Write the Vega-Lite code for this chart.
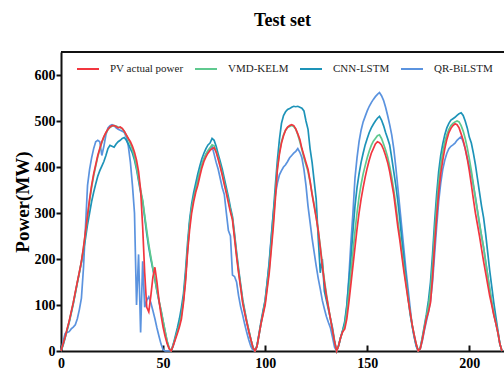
{
  "$schema": "https://vega.github.io/schema/vega-lite/v6.json",
  "width": 443,
  "height": 299,
  "autosize": {"type": "none"},
  "padding": {"left": 61, "top": 52, "right": 0, "bottom": 18},
  "background": "white",
  "title": {"text": "Test set", "font": "Liberation Serif", "fontSize": 18, "fontWeight": "bold", "color": "#000", "anchor": "middle", "offset": 21},
  "config": {"view": {"stroke": null}},
  "layer": [
    {
      "data": {"values": [
        {"x":0,"pv":0,"vmd":0,"cnn":0,"qr":0},
        {"x":1,"pv":15,"vmd":14,"cnn":12,"qr":20},
        {"x":2,"pv":30,"vmd":30,"cnn":28,"qr":38},
        {"x":3,"pv":48,"vmd":47,"cnn":45,"qr":40},
        {"x":4,"pv":65,"vmd":64,"cnn":62,"qr":42},
        {"x":5,"pv":85,"vmd":84,"cnn":82,"qr":48},
        {"x":6,"pv":105,"vmd":104,"cnn":102,"qr":52},
        {"x":7,"pv":128,"vmd":126,"cnn":125,"qr":57},
        {"x":8,"pv":150,"vmd":149,"cnn":148,"qr":70},
        {"x":9,"pv":172,"vmd":171,"cnn":170,"qr":90},
        {"x":10,"pv":195,"vmd":194,"cnn":193,"qr":115},
        {"x":11,"pv":225,"vmd":223,"cnn":218,"qr":180},
        {"x":12,"pv":260,"vmd":257,"cnn":245,"qr":270},
        {"x":13,"pv":295,"vmd":292,"cnn":275,"qr":360},
        {"x":14,"pv":330,"vmd":326,"cnn":300,"qr":395},
        {"x":15,"pv":360,"vmd":356,"cnn":325,"qr":420},
        {"x":16,"pv":385,"vmd":381,"cnn":345,"qr":440},
        {"x":17,"pv":405,"vmd":402,"cnn":363,"qr":455},
        {"x":18,"pv":425,"vmd":422,"cnn":380,"qr":458},
        {"x":19,"pv":440,"vmd":438,"cnn":392,"qr":455},
        {"x":20,"pv":455,"vmd":453,"cnn":402,"qr":425},
        {"x":21,"pv":466,"vmd":465,"cnn":412,"qr":445},
        {"x":22,"pv":475,"vmd":474,"cnn":425,"qr":470},
        {"x":23,"pv":482,"vmd":481,"cnn":440,"qr":485},
        {"x":24,"pv":487,"vmd":486,"cnn":447,"qr":490},
        {"x":25,"pv":490,"vmd":489,"cnn":445,"qr":492},
        {"x":26,"pv":490,"vmd":490,"cnn":443,"qr":490},
        {"x":27,"pv":488,"vmd":489,"cnn":450,"qr":485},
        {"x":28,"pv":485,"vmd":487,"cnn":455,"qr":482},
        {"x":29,"pv":487,"vmd":486,"cnn":458,"qr":480},
        {"x":30,"pv":484,"vmd":483,"cnn":462,"qr":478},
        {"x":31,"pv":478,"vmd":477,"cnn":464,"qr":475},
        {"x":32,"pv":470,"vmd":469,"cnn":458,"qr":465},
        {"x":33,"pv":462,"vmd":460,"cnn":450,"qr":445},
        {"x":34,"pv":455,"vmd":450,"cnn":440,"qr":410},
        {"x":35,"pv":445,"vmd":438,"cnn":430,"qr":360},
        {"x":36,"pv":432,"vmd":422,"cnn":415,"qr":300},
        {"x":37,"pv":415,"vmd":400,"cnn":395,"qr":100},
        {"x":38,"pv":390,"vmd":375,"cnn":370,"qr":210},
        {"x":39,"pv":350,"vmd":350,"cnn":345,"qr":40},
        {"x":40,"pv":270,"vmd":328,"cnn":325,"qr":195},
        {"x":41,"pv":170,"vmd":295,"cnn":290,"qr":95},
        {"x":42,"pv":95,"vmd":262,"cnn":255,"qr":110},
        {"x":43,"pv":85,"vmd":232,"cnn":225,"qr":118},
        {"x":44,"pv":120,"vmd":205,"cnn":200,"qr":105},
        {"x":45,"pv":160,"vmd":180,"cnn":178,"qr":88},
        {"x":46,"pv":182,"vmd":157,"cnn":155,"qr":70},
        {"x":47,"pv":150,"vmd":132,"cnn":130,"qr":50},
        {"x":48,"pv":110,"vmd":110,"cnn":108,"qr":32},
        {"x":49,"pv":78,"vmd":88,"cnn":88,"qr":15},
        {"x":50,"pv":52,"vmd":66,"cnn":65,"qr":3},
        {"x":51,"pv":32,"vmd":43,"cnn":42,"qr":0},
        {"x":52,"pv":16,"vmd":22,"cnn":20,"qr":0},
        {"x":53,"pv":5,"vmd":6,"cnn":5,"qr":0},
        {"x":54,"pv":0,"vmd":0,"cnn":0,"qr":0},
        {"x":55,"pv":12,"vmd":13,"cnn":15,"qr":12},
        {"x":56,"pv":25,"vmd":28,"cnn":32,"qr":28},
        {"x":57,"pv":38,"vmd":42,"cnn":50,"qr":45},
        {"x":58,"pv":52,"vmd":57,"cnn":70,"qr":63},
        {"x":59,"pv":70,"vmd":78,"cnn":95,"qr":82},
        {"x":60,"pv":105,"vmd":112,"cnn":125,"qr":112},
        {"x":61,"pv":150,"vmd":160,"cnn":175,"qr":160},
        {"x":62,"pv":215,"vmd":222,"cnn":235,"qr":220},
        {"x":63,"pv":263,"vmd":275,"cnn":285,"qr":278},
        {"x":64,"pv":300,"vmd":310,"cnn":320,"qr":312},
        {"x":65,"pv":325,"vmd":333,"cnn":345,"qr":335},
        {"x":66,"pv":345,"vmd":352,"cnn":365,"qr":355},
        {"x":67,"pv":360,"vmd":370,"cnn":385,"qr":372},
        {"x":68,"pv":380,"vmd":390,"cnn":402,"qr":390},
        {"x":69,"pv":398,"vmd":405,"cnn":418,"qr":405},
        {"x":70,"pv":412,"vmd":418,"cnn":430,"qr":418},
        {"x":71,"pv":422,"vmd":428,"cnn":440,"qr":428},
        {"x":72,"pv":430,"vmd":436,"cnn":448,"qr":435},
        {"x":73,"pv":436,"vmd":442,"cnn":452,"qr":440},
        {"x":74,"pv":440,"vmd":448,"cnn":462,"qr":445},
        {"x":75,"pv":442,"vmd":446,"cnn":458,"qr":428},
        {"x":76,"pv":432,"vmd":434,"cnn":445,"qr":410},
        {"x":77,"pv":417,"vmd":420,"cnn":428,"qr":395},
        {"x":78,"pv":400,"vmd":404,"cnn":412,"qr":375},
        {"x":79,"pv":382,"vmd":386,"cnn":395,"qr":355},
        {"x":80,"pv":362,"vmd":366,"cnn":375,"qr":340},
        {"x":81,"pv":343,"vmd":347,"cnn":355,"qr":300},
        {"x":82,"pv":322,"vmd":327,"cnn":335,"qr":262},
        {"x":83,"pv":302,"vmd":306,"cnn":312,"qr":250},
        {"x":84,"pv":285,"vmd":288,"cnn":292,"qr":165},
        {"x":85,"pv":245,"vmd":250,"cnn":255,"qr":162},
        {"x":86,"pv":205,"vmd":210,"cnn":215,"qr":150},
        {"x":87,"pv":170,"vmd":173,"cnn":178,"qr":120},
        {"x":88,"pv":138,"vmd":140,"cnn":145,"qr":96},
        {"x":89,"pv":104,"vmd":108,"cnn":112,"qr":78},
        {"x":90,"pv":82,"vmd":85,"cnn":88,"qr":58},
        {"x":91,"pv":62,"vmd":63,"cnn":65,"qr":40},
        {"x":92,"pv":42,"vmd":44,"cnn":45,"qr":24},
        {"x":93,"pv":25,"vmd":25,"cnn":25,"qr":10},
        {"x":94,"pv":8,"vmd":8,"cnn":8,"qr":2},
        {"x":95,"pv":0,"vmd":0,"cnn":0,"qr":0},
        {"x":96,"pv":10,"vmd":10,"cnn":12,"qr":10},
        {"x":97,"pv":35,"vmd":35,"cnn":38,"qr":35},
        {"x":98,"pv":60,"vmd":60,"cnn":65,"qr":60},
        {"x":99,"pv":80,"vmd":82,"cnn":88,"qr":85},
        {"x":100,"pv":100,"vmd":105,"cnn":110,"qr":110},
        {"x":101,"pv":135,"vmd":140,"cnn":150,"qr":150},
        {"x":102,"pv":170,"vmd":178,"cnn":190,"qr":195},
        {"x":103,"pv":220,"vmd":230,"cnn":245,"qr":250},
        {"x":104,"pv":270,"vmd":282,"cnn":300,"qr":300},
        {"x":105,"pv":330,"vmd":340,"cnn":360,"qr":340},
        {"x":106,"pv":395,"vmd":398,"cnn":415,"qr":365},
        {"x":107,"pv":428,"vmd":432,"cnn":460,"qr":383},
        {"x":108,"pv":452,"vmd":455,"cnn":495,"qr":392},
        {"x":109,"pv":468,"vmd":470,"cnn":512,"qr":400},
        {"x":110,"pv":480,"vmd":480,"cnn":520,"qr":405},
        {"x":111,"pv":487,"vmd":486,"cnn":525,"qr":412},
        {"x":112,"pv":490,"vmd":488,"cnn":527,"qr":420},
        {"x":113,"pv":492,"vmd":490,"cnn":530,"qr":425},
        {"x":114,"pv":490,"vmd":488,"cnn":532,"qr":430},
        {"x":115,"pv":483,"vmd":482,"cnn":531,"qr":434},
        {"x":116,"pv":472,"vmd":470,"cnn":532,"qr":440},
        {"x":117,"pv":460,"vmd":455,"cnn":530,"qr":432},
        {"x":118,"pv":440,"vmd":438,"cnn":528,"qr":420},
        {"x":119,"pv":425,"vmd":420,"cnn":522,"qr":395},
        {"x":120,"pv":410,"vmd":405,"cnn":500,"qr":360},
        {"x":121,"pv":395,"vmd":390,"cnn":482,"qr":315},
        {"x":122,"pv":370,"vmd":368,"cnn":440,"qr":280},
        {"x":123,"pv":340,"vmd":342,"cnn":410,"qr":245},
        {"x":124,"pv":315,"vmd":318,"cnn":370,"qr":215},
        {"x":125,"pv":290,"vmd":292,"cnn":330,"qr":185},
        {"x":126,"pv":262,"vmd":262,"cnn":245,"qr":158},
        {"x":127,"pv":225,"vmd":228,"cnn":170,"qr":135},
        {"x":128,"pv":185,"vmd":190,"cnn":200,"qr":110},
        {"x":129,"pv":150,"vmd":155,"cnn":130,"qr":92},
        {"x":130,"pv":120,"vmd":124,"cnn":110,"qr":75},
        {"x":131,"pv":95,"vmd":96,"cnn":90,"qr":62},
        {"x":132,"pv":70,"vmd":70,"cnn":70,"qr":50},
        {"x":133,"pv":45,"vmd":45,"cnn":50,"qr":30},
        {"x":134,"pv":20,"vmd":20,"cnn":22,"qr":8},
        {"x":135,"pv":0,"vmd":0,"cnn":0,"qr":0},
        {"x":136,"pv":12,"vmd":12,"cnn":12,"qr":12},
        {"x":137,"pv":30,"vmd":30,"cnn":30,"qr":30},
        {"x":138,"pv":42,"vmd":43,"cnn":45,"qr":45},
        {"x":139,"pv":48,"vmd":55,"cnn":65,"qr":60},
        {"x":140,"pv":70,"vmd":85,"cnn":100,"qr":95},
        {"x":141,"pv":105,"vmd":125,"cnn":150,"qr":160},
        {"x":142,"pv":145,"vmd":170,"cnn":200,"qr":235},
        {"x":143,"pv":185,"vmd":215,"cnn":260,"qr":300},
        {"x":144,"pv":225,"vmd":260,"cnn":315,"qr":376},
        {"x":145,"pv":265,"vmd":300,"cnn":355,"qr":420},
        {"x":146,"pv":300,"vmd":335,"cnn":385,"qr":455},
        {"x":147,"pv":330,"vmd":362,"cnn":410,"qr":480},
        {"x":148,"pv":355,"vmd":385,"cnn":430,"qr":498},
        {"x":149,"pv":378,"vmd":403,"cnn":448,"qr":510},
        {"x":150,"pv":398,"vmd":420,"cnn":462,"qr":522},
        {"x":151,"pv":415,"vmd":435,"cnn":475,"qr":532},
        {"x":152,"pv":430,"vmd":447,"cnn":485,"qr":540},
        {"x":153,"pv":440,"vmd":456,"cnn":493,"qr":547},
        {"x":154,"pv":450,"vmd":462,"cnn":500,"qr":553},
        {"x":155,"pv":455,"vmd":468,"cnn":506,"qr":558},
        {"x":156,"pv":453,"vmd":470,"cnn":510,"qr":562},
        {"x":157,"pv":448,"vmd":462,"cnn":502,"qr":555},
        {"x":158,"pv":438,"vmd":450,"cnn":490,"qr":545},
        {"x":159,"pv":425,"vmd":437,"cnn":475,"qr":530},
        {"x":160,"pv":410,"vmd":422,"cnn":462,"qr":512},
        {"x":161,"pv":390,"vmd":402,"cnn":448,"qr":492},
        {"x":162,"pv":365,"vmd":378,"cnn":420,"qr":470},
        {"x":163,"pv":340,"vmd":350,"cnn":390,"qr":440},
        {"x":164,"pv":305,"vmd":318,"cnn":360,"qr":400},
        {"x":165,"pv":270,"vmd":283,"cnn":325,"qr":355},
        {"x":166,"pv":240,"vmd":250,"cnn":285,"qr":310},
        {"x":167,"pv":205,"vmd":215,"cnn":240,"qr":265},
        {"x":168,"pv":172,"vmd":180,"cnn":200,"qr":220},
        {"x":169,"pv":142,"vmd":148,"cnn":160,"qr":175},
        {"x":170,"pv":112,"vmd":115,"cnn":120,"qr":135},
        {"x":171,"pv":85,"vmd":85,"cnn":80,"qr":95},
        {"x":172,"pv":58,"vmd":58,"cnn":55,"qr":55},
        {"x":173,"pv":35,"vmd":35,"cnn":32,"qr":30},
        {"x":174,"pv":15,"vmd":15,"cnn":12,"qr":10},
        {"x":175,"pv":0,"vmd":0,"cnn":0,"qr":0},
        {"x":176,"pv":5,"vmd":6,"cnn":8,"qr":5},
        {"x":177,"pv":25,"vmd":28,"cnn":30,"qr":22},
        {"x":178,"pv":48,"vmd":52,"cnn":55,"qr":45},
        {"x":179,"pv":70,"vmd":75,"cnn":80,"qr":65},
        {"x":180,"pv":85,"vmd":98,"cnn":110,"qr":85},
        {"x":181,"pv":105,"vmd":130,"cnn":150,"qr":110},
        {"x":182,"pv":160,"vmd":185,"cnn":210,"qr":150},
        {"x":183,"pv":230,"vmd":255,"cnn":280,"qr":210},
        {"x":184,"pv":290,"vmd":315,"cnn":340,"qr":270},
        {"x":185,"pv":345,"vmd":368,"cnn":390,"qr":325},
        {"x":186,"pv":385,"vmd":405,"cnn":425,"qr":365},
        {"x":187,"pv":415,"vmd":432,"cnn":450,"qr":395},
        {"x":188,"pv":440,"vmd":455,"cnn":470,"qr":415},
        {"x":189,"pv":460,"vmd":470,"cnn":485,"qr":430},
        {"x":190,"pv":475,"vmd":482,"cnn":495,"qr":440},
        {"x":191,"pv":484,"vmd":490,"cnn":502,"qr":445},
        {"x":192,"pv":490,"vmd":495,"cnn":505,"qr":448},
        {"x":193,"pv":494,"vmd":498,"cnn":508,"qr":452},
        {"x":194,"pv":492,"vmd":500,"cnn":512,"qr":458},
        {"x":195,"pv":485,"vmd":498,"cnn":516,"qr":462},
        {"x":196,"pv":472,"vmd":490,"cnn":518,"qr":466},
        {"x":197,"pv":458,"vmd":478,"cnn":512,"qr":455},
        {"x":198,"pv":440,"vmd":462,"cnn":500,"qr":440},
        {"x":199,"pv":418,"vmd":442,"cnn":485,"qr":420},
        {"x":200,"pv":392,"vmd":418,"cnn":465,"qr":402},
        {"x":201,"pv":362,"vmd":392,"cnn":452,"qr":385},
        {"x":202,"pv":330,"vmd":362,"cnn":430,"qr":360},
        {"x":203,"pv":300,"vmd":332,"cnn":405,"qr":335},
        {"x":204,"pv":275,"vmd":305,"cnn":375,"qr":305},
        {"x":205,"pv":250,"vmd":278,"cnn":345,"qr":275},
        {"x":206,"pv":222,"vmd":250,"cnn":315,"qr":250},
        {"x":207,"pv":195,"vmd":225,"cnn":290,"qr":225},
        {"x":208,"pv":170,"vmd":195,"cnn":255,"qr":195},
        {"x":209,"pv":145,"vmd":165,"cnn":215,"qr":165},
        {"x":210,"pv":120,"vmd":135,"cnn":175,"qr":135},
        {"x":211,"pv":100,"vmd":108,"cnn":140,"qr":105},
        {"x":212,"pv":78,"vmd":82,"cnn":105,"qr":80},
        {"x":213,"pv":60,"vmd":62,"cnn":75,"qr":60},
        {"x":214,"pv":40,"vmd":40,"cnn":45,"qr":40},
        {"x":215,"pv":15,"vmd":15,"cnn":15,"qr":15},
        {"x":216,"pv":0,"vmd":0,"cnn":0,"qr":0}
      ]},
      "transform": [{"fold": ["qr", "cnn", "vmd", "pv"], "as": ["series", "power"]}],
      "mark": {"type": "line", "strokeWidth": 1.7},
      "encoding": {
        "x": {
          "field": "x", "type": "quantitative",
          "scale": {"domain": [0, 217], "nice": false, "zero": false},
          "axis": {
            "title": null, "values": [0, 50, 100, 150, 200], "format": "d", "grid": false,
            "labelFont": "Liberation Serif", "labelFontSize": 14, "labelFontWeight": "bold", "labelColor": "#000",
            "labelFlush": false, "labelPadding": 11,
            "domainColor": "#111", "domainWidth": 2,
            "tickColor": "#111", "tickWidth": 2, "tickSize": -6
          }
        },
        "y": {
          "field": "power", "type": "quantitative",
          "scale": {"domain": [0, 650], "nice": false},
          "axis": {
            "title": "Power(MW)", "values": [0, 100, 200, 300, 400, 500, 600], "grid": false,
            "titleFont": "Liberation Serif", "titleFontSize": 19, "titleFontWeight": "bold", "titleColor": "#000", "titlePadding": 2,
            "labelFont": "Liberation Serif", "labelFontSize": 14, "labelFontWeight": "bold", "labelColor": "#000", "labelPadding": 1,
            "domainColor": "#111", "domainWidth": 2,
            "tickColor": "#111", "tickWidth": 2, "tickSize": 5
          }
        },
        "color": {
          "field": "series", "type": "nominal",
          "scale": {"domain": ["pv", "vmd", "cnn", "qr"], "range": ["#f2363f", "#5fc98f", "#1d93b8", "#5b93df"]},
          "legend": {
            "title": null, "orient": "none", "legendX": 15, "legendY": 5, "direction": "horizontal",
            "symbolType": "stroke", "symbolSize": 484, "symbolStrokeWidth": 2,
            "labelFont": "Liberation Serif", "labelFontSize": 11, "labelColor": "#222",
            "labelOffset": 10, "columnPadding": 7, "padding": 0,
            "labelExpr": "datum.label == 'pv' ? 'PV actual power' : datum.label == 'vmd' ? 'VMD-KELM' : datum.label == 'cnn' ? 'CNN-LSTM' : 'QR-BiLSTM'"
          }
        }
      }
    },
    {
      "data": {"values": [{}]},
      "mark": {"type": "rule", "color": "#111", "strokeWidth": 2},
      "encoding": {"y": {"datum": 650}}
    }
  ]
}
